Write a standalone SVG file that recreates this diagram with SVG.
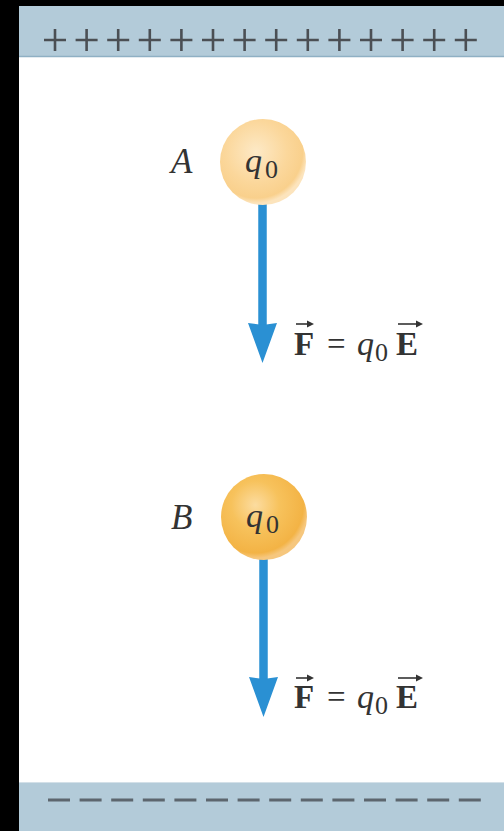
<svg xmlns="http://www.w3.org/2000/svg" width="504" height="831" viewBox="0 0 504 831">
  <defs>
    <radialGradient id="gradA" cx="0.42" cy="0.38" r="0.6">
      <stop offset="0" stop-color="#fde9c6"/>
      <stop offset="0.6" stop-color="#fbd79b"/>
      <stop offset="0.9" stop-color="#f9d08c"/>
      <stop offset="1" stop-color="#fce4bd"/>
    </radialGradient>
    <radialGradient id="gradB" cx="0.4" cy="0.36" r="0.62">
      <stop offset="0" stop-color="#fcdca0"/>
      <stop offset="0.45" stop-color="#f7c25c"/>
      <stop offset="0.9" stop-color="#f3b345"/>
      <stop offset="1" stop-color="#f6c77e"/>
    </radialGradient>
    <marker id="head" markerUnits="userSpaceOnUse" markerWidth="42" markerHeight="30" refX="17" refY="14.5" orient="auto" overflow="visible">
      <path d="M0,0 L40,14.5 L0,29 L2,14.5 Z" fill="#2a90d3"/>
    </marker>
    <marker id="vec" markerUnits="userSpaceOnUse" markerWidth="7" markerHeight="7" refX="5" refY="3.5" orient="auto" overflow="visible">
      <path d="M0,0 L7,3.5 L0,7 Z" fill="#333"/>
    </marker>
  </defs>
  <style>
    .plate { fill: #b3cbd9; }
    .plus { stroke: #4b4f54; stroke-width: 2.6; }
    .minus { stroke: #5d666e; stroke-width: 3; }
    .lbl { font-family: "Liberation Serif", "DejaVu Serif", serif; font-style: italic; font-size: 35px; fill: #333; }
    .q { font-family: "Liberation Serif", "DejaVu Serif", serif; font-style: italic; font-size: 34px; fill: #333; }
    .sub { font-family: "Liberation Serif", "DejaVu Serif", serif; font-size: 26px; fill: #333; }
    .bold { font-family: "Liberation Serif", "DejaVu Serif", serif; font-weight: bold; font-size: 33px; fill: #333; }
    .eq { font-family: "Liberation Serif", "DejaVu Serif", serif; font-size: 33px; fill: #333; }
    .force { stroke: #2a90d3; stroke-width: 8.5; fill: none; }
    .vecbar { stroke: #333; stroke-width: 1.6; fill: none; }
  </style>

  <rect x="0" y="0" width="504" height="831" fill="#000"/>
  <rect x="19" y="6" width="485" height="825" fill="#fff"/>

  <g id="plate-top">
    <rect class="plate" x="19" y="6" width="485" height="51"/>
    <line x1="19" y1="56.5" x2="504" y2="56.5" stroke="#8fb0c4" stroke-width="1.5"/>
    <g class="plus">
      <path d="M44,40h22M55,29v22"/>
      <path d="M75.6,40h22M86.6,29v22"/>
      <path d="M107.2,40h22M118.2,29v22"/>
      <path d="M138.8,40h22M149.8,29v22"/>
      <path d="M170.4,40h22M181.4,29v22"/>
      <path d="M202,40h22M213,29v22"/>
      <path d="M233.6,40h22M244.6,29v22"/>
      <path d="M265.2,40h22M276.2,29v22"/>
      <path d="M296.8,40h22M307.8,29v22"/>
      <path d="M328.4,40h22M339.4,29v22"/>
      <path d="M360,40h22M371,29v22"/>
      <path d="M391.6,40h22M402.6,29v22"/>
      <path d="M423.2,40h22M434.2,29v22"/>
      <path d="M454.8,40h22M465.8,29v22"/>
    </g>
  </g>

  <g id="plate-bottom">
    <rect class="plate" x="19" y="782" width="485" height="49"/>
    <line x1="19" y1="782.5" x2="504" y2="782.5" stroke="#d3e0e8" stroke-width="1"/>
    <g class="minus">
      <path d="M48,800h22M79.6,800h22M111.2,800h22M142.8,800h22M174.4,800h22M206,800h22M237.6,800h22M269.2,800h22M300.8,800h22M332.4,800h22M364,800h22M395.6,800h22M427.2,800h22M458.8,800h22"/>
    </g>
  </g>

  <g id="connectors">
    <line class="force" x1="262.5" y1="204" x2="262.5" y2="340" marker-end="url(#head)"/>
    <line class="force" x1="263.5" y1="559" x2="263.5" y2="694" marker-end="url(#head)"/>
  </g>

  <g id="charge-A">
    <circle cx="263" cy="162" r="43" fill="url(#gradA)"/>
    <text class="lbl" x="171" y="173">A</text>
    <text class="q" x="245" y="172">q</text>
    <text class="sub" x="265" y="178">0</text>
  </g>

  <g id="charge-B">
    <circle cx="264" cy="517" r="43" fill="url(#gradB)"/>
    <text class="lbl" x="171" y="529">B</text>
    <text class="q" x="246" y="527">q</text>
    <text class="sub" x="266" y="533">0</text>
  </g>

  <g id="label-A">
    <text class="bold" x="294" y="355">F</text>
    <line class="vecbar" x1="296" y1="324" x2="312" y2="324" marker-end="url(#vec)"/>
    <text class="eq" x="327" y="355">=</text>
    <text class="q" x="357" y="355">q</text>
    <text class="sub" x="375" y="361">0</text>
    <text class="bold" x="396" y="355">E</text>
    <line class="vecbar" x1="398" y1="324" x2="421" y2="324" marker-end="url(#vec)"/>
  </g>

  <g id="label-B">
    <text class="bold" x="294" y="708">F</text>
    <line class="vecbar" x1="296" y1="678" x2="312" y2="678" marker-end="url(#vec)"/>
    <text class="eq" x="327" y="708">=</text>
    <text class="q" x="357" y="708">q</text>
    <text class="sub" x="375" y="714">0</text>
    <text class="bold" x="396" y="708">E</text>
    <line class="vecbar" x1="398" y1="678" x2="421" y2="678" marker-end="url(#vec)"/>
  </g>
</svg>
